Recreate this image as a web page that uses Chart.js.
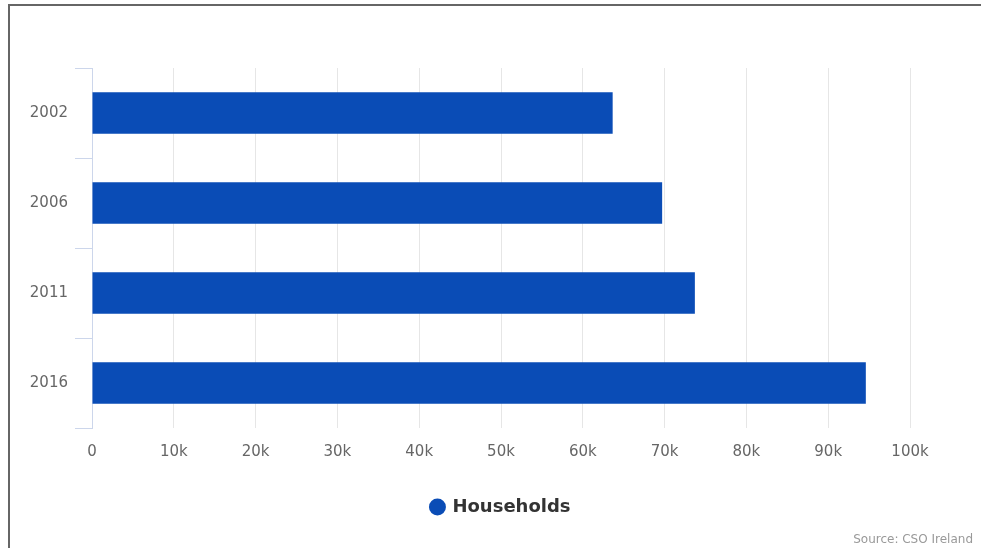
<!DOCTYPE html>
<html>
<head>
<meta charset="utf-8">
<script src="https://cdn.jsdelivr.net/npm/chart.js@4/dist/chart.umd.min.js"></script>
<style>
	html, body { margin: 0; padding: 0; background: #fff; }
	.wrap { position: relative; width: 981px; height: 548px; overflow: hidden; }
	.frame {
		position: absolute; left: 8px; top: 4px; right: -4px; bottom: -4px;
		border-top: 2px solid #666; border-left: 2px solid #666;
		pointer-events: none;
	}
</style>
</head>
<body>
<div class="wrap">
	<canvas id="chart" width="981" height="548"></canvas>
	<div class="frame"></div>
</div>
<script>
// data
const years = ["2002", "2006", "2011", "2016"];
const households = [63650, 69700, 73700, 94600];
const seriesName = "Households";
const sourceText = "Source: CSO Ireland";

const FONT = "'DejaVu Sans', sans-serif";

// source credit, bottom right
const sourcePlugin = {
	id: "sourceText",
	afterDraw(chart) {
		const ctx = chart.ctx;
		ctx.save();
		ctx.font = "12px " + FONT;
		ctx.fillStyle = "#999";
		ctx.textAlign = "right";
		ctx.textBaseline = "middle";
		ctx.fillText(sourceText, 973, 540);
		ctx.restore();
	},
};

const ctx = document.getElementById("chart").getContext("2d");
new Chart(ctx, {
	type: "bar",
	data: {
		labels: years,
		datasets: [
			{
				label: seriesName,
				data: households,
				backgroundColor: "#0a4cb6",
				borderWidth: 0,
				categoryPercentage: 1,
				barPercentage: 0.46,
			},
		],
	},
	plugins: [sourcePlugin],
	options: {
		responsive: false,
		animation: false,
		indexAxis: "y",
		layout: { padding: { top: 68, left: 0, right: 71, bottom: 22 } },
		plugins: {
			tooltip: { enabled: false },
			legend: {
				position: "bottom",
				fullSize: false,
				labels: {
					usePointStyle: true,
					pointStyle: "circle",
					boxWidth: 12,
					boxHeight: 12,
					padding: 10,
					color: "#333",
					font: { family: FONT, size: 18, weight: "bold" },
				},
			},
		},
		scales: {
			x: {
				min: 0,
				max: 100000,
				afterFit(axis) { axis.height = 60; },
				border: { display: false },
				grid: { color: "#e6e6e6", drawTicks: false },
				ticks: {
					stepSize: 10000,
					padding: 15,
					color: "#666",
					font: { family: FONT, size: 15 },
					callback: (v) => (v === 0 ? "0" : v / 1000 + "k"),
				},
			},
			y: {
				afterFit(axis) { axis.width = 92; },
				border: { color: "#ccd6eb" },
				grid: { drawOnChartArea: false, color: "#ccd6eb", tickLength: 17 },
				ticks: {
					padding: 7,
					color: "#666",
					font: { family: FONT, size: 15 },
				},
			},
		},
	},
});
</script>
</body>
</html>
